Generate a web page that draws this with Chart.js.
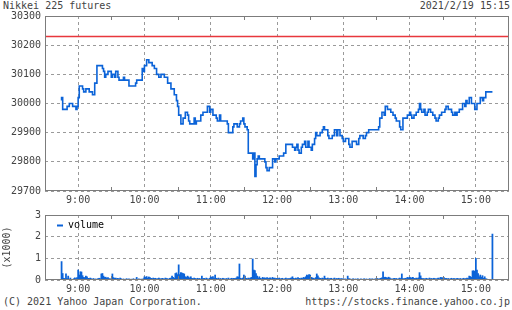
<!DOCTYPE html>
<html>
<head>
<meta charset="utf-8">
<script src="https://cdn.jsdelivr.net/npm/chart.js@4.4.0/dist/chart.umd.min.js"></script>
<style>
  html, body { margin: 0; padding: 0; background: #fff; }
  body { width: 512px; height: 310px; position: relative; overflow: hidden;
         font-family: 'DejaVu Sans Mono', monospace; font-size: 10px; color: #444; }
  .txt { position: absolute; white-space: nowrap; line-height: 12px; }
  canvas { position: absolute; left: 0; }
</style>
</head>
<body>
<div class="txt" style="left:3px; top:0px;">Nikkei 225 futures</div>
<div class="txt" style="right:2px; top:0px;">2021/2/19 15:15</div>
<canvas id="priceChart" width="512" height="205" style="top:0px"></canvas>
<canvas id="volChart" width="512" height="90" style="top:205px"></canvas>
<div class="txt" style="left:3px; top:296px;">(C) 2021 Yahoo Japan Corporation.</div>
<div class="txt" style="right:2px; top:296px;">https://stocks.finance.yahoo.co.jp</div>

<script>
// Kurs (Schritt-Linie): Zeitpunkte der Änderung und Preis
const priceTimes = [
  '8:45','8:46','8:50','8:52','8:55','8:58','8:59','9:00','9:01','9:04',
  '9:05','9:07','9:10','9:13','9:15','9:17','9:22','9:23','9:24','9:25',
  '9:27','9:30','9:31','9:33','9:34','9:36','9:37','9:41','9:42','9:46',
  '9:52','9:53','9:58','9:59','10:00','10:02','10:04','10:07','10:09','10:11',
  '10:13','10:15','10:18','10:21','10:24','10:27','10:29','10:30','10:31','10:33',
  '10:35','10:37','10:39','10:40','10:41','10:45','10:46','10:47','10:51','10:53',
  '10:57','10:59','11:00','11:02','11:05','11:06','11:08','11:09','11:15','11:16',
  '11:20','11:21','11:24','11:26','11:27','11:29','11:30','11:31','11:33','11:34',
  '11:38','11:39','11:40','11:41','11:42','11:43','11:44','11:49','11:50','11:51',
  '11:53','11:56','11:58','11:59','12:02','12:06','12:08','12:14','12:16','12:17',
  '12:18','12:19','12:20','12:22','12:23','12:25','12:26','12:28','12:29','12:31',
  '12:32','12:34','12:35','12:36','12:39','12:41','12:42','12:43','12:46','12:47',
  '12:50','12:52','12:54','12:55','12:57','12:59','13:00','13:02','13:05','13:06',
  '13:08','13:12','13:14','13:15','13:18','13:20','13:21','13:23','13:32','13:33',
  '13:35','13:37','13:38','13:40','13:43','13:45','13:47','13:48','13:51','13:52',
  '13:54','13:58','14:00','14:01','14:02','14:04','14:06','14:08','14:09','14:10',
  '14:11','14:13','14:14','14:16','14:17','14:19','14:21','14:23','14:24','14:26',
  '14:27','14:29','14:32','14:33','14:35','14:38','14:39','14:41','14:42','14:43',
  '14:45','14:48','14:50','14:51','14:52','14:54','14:56','14:59','15:01','15:04',
  '15:06','15:07','15:09','15:15'
];
const prices = [
  30010,30020,29980,29990,30000,29990,29980,29990,30020,30060,
  30050,30040,30050,30040,30030,30070,30130,30120,30110,30090,
  30100,30110,30090,30100,30090,30110,30090,30080,30090,30080,
  30060,30070,30080,30120,30110,30130,30150,30140,30130,30120,
  30100,30090,30100,30090,30070,30050,30030,30010,29990,29960,
  29930,29950,29970,29960,29940,29930,29950,29930,29940,29960,
  29970,29990,29970,29980,29960,29950,29940,29960,29940,29930,
  29900,29920,29930,29920,29930,29940,29950,29930,29920,29910,
  29830,29810,29830,29750,29790,29810,29820,29810,29800,29780,
  29770,29780,29810,29800,29810,29820,29830,29860,29850,29840,
  29850,29860,29840,29830,29850,29860,29870,29850,29870,29850,
  29840,29860,29880,29900,29890,29900,29910,29920,29910,29890,
  29880,29890,29910,29890,29910,29890,29880,29870,29880,29860,
  29850,29870,29860,29880,29890,29880,29890,29900,29910,29920,
  29950,29970,29960,29990,29980,29970,29960,29950,29940,29920,
  29910,29950,29960,29970,29960,29950,29960,29970,29980,30000,
  29980,29970,29980,29960,29970,29980,29970,29960,29950,29940,
  29950,29960,29970,29980,29990,29980,29970,29960,29970,29960,
  29970,29980,30000,29990,30010,30000,30020,30000,29980,30000,
  30020,30010,30020,30040
];
const prevClose = 30230;   // rote Linie

// Volumen pro Minute (Kontrakte), ab 8:45
const volStart = '8:45';
const vol0845 = [850,300,80,70,280,60,180,40,90,30,20,60,100,70,110];
const vol0900 = [460,230,380,370,200,120,110,180,150,80,70,90,60,40,70,30,50,30,60,80,60,280,300,180,120,130,80,110,60,40];
const vol0930 = [70,280,110,80,90,60,80,40,90,60,30,50,20,40,60,30,50,20,40,30,60,20,40,120,30,50,20,40,30,60];
const vol1000 = [150,120,160,90,140,110,80,60,90,70,80,50,60,90,70,40,80,60,50,90,70,60,40,80,90,180,120,80,300,330];
const vol1030 = [250,700,250,340,320,300,280,150,120,180,140,90,150,80,60,90,70,50,80,60,70,40,180,60,80,50,90,60,40,80];
const vol1100 = [150,120,160,90,230,80,60,90,50,70,40,80,60,30,70,50,90,40,60,80,60,80,70,90,150,140,740,80,60,90];
const vol1130 = [230,180,80,60,90,70,100,120,970,460,430,300,180,90,150,80,60,120,90,100,80,110,70,90,100,60,120,80,90,70];
const vol1200 = [80,60,90,50,70,80,40,60,90,50,70,60,80,100,150,80,60,90,70,110,80,60,90,70,120,100,150,230,200,250];
const vol1230 = [230,120,100,80,60,110,280,190,100,80,60,90,70,180,80,60,90,50,70,80,40,60,90,50,70,60,80,40,60,50];
const vol1300 = [60,40,50,30,180,60,50,30,40,60,20,50,30,60,40,20,50,30,40,60,30,50,20,40,60,30,50,40,30,60];
const vol1330 = [50,70,40,60,80,100,380,120,130,110,90,130,100,60,40,50,80,60,70,40,60,90,70,280,60,50,80,70,120,100];
const vol1400 = [130,110,90,120,80,60,90,70,100,340,190,80,60,70,40,80,60,50,90,60,70,50,80,60,40,70,90,60,120,110];
const vol1430 = [100,120,60,80,50,70,40,60,80,50,70,60,40,80,60,50,70,40,60,80,50,60,90,70,180,160,120,420,430,400];
const vol1500 = [1000,460,300,150,230,130,200,80,150,60,40,0,0,0,0,2120];

const axisStart = '8:30', axisEnd = '15:30';
const priceTicks = [29700, 30300, 100];   // min, max, step
const volTicks = [0, 3000, 1000];

// ---------------------------------------------------------------
const BLUE = '#0b63d8';
const RED = '#e8373c';
const GRID = '#9a9a9a';
const FRAME = '#7c7c7c';
const TEXT = '#444444';
const FONT = { family: "'DejaVu Sans Mono', monospace", size: 10 };

const toMin = s => { const [h, m] = s.split(':').map(Number); return h * 60 + m; };

const pricePoints = priceTimes.map((t, i) => ({ x: toMin(t), y: prices[i] }));
const volValues = [].concat(vol0845, vol0900, vol0930, vol1000, vol1030, vol1100, vol1130,
  vol1200, vol1230, vol1300, vol1330, vol1400, vol1430, vol1500);
const volPoints = volValues.map((v, i) => ({ x: toMin(volStart) + i, y: v }));

// Rahmen + kleine Halbstunden-Striche
const frame = {
  id: 'frame',
  afterDraw(chart) {
    const { ctx, chartArea: a, scales } = chart;
    ctx.save();
    ctx.strokeStyle = FRAME;
    ctx.lineWidth = 1;
    ctx.strokeRect(Math.round(a.left) + 0.5, Math.round(a.top) + 0.5,
      Math.round(a.width) - 1, Math.round(a.height) - 1);
    ctx.beginPath();
    scales.x.ticks.forEach(t => {
      if (t.value % 60 === 30 && t.value > scales.x.min && t.value < scales.x.max) {
        const px = Math.round(scales.x.getPixelForValue(t.value)) + 0.5;
        ctx.moveTo(px, a.top); ctx.lineTo(px, a.top + 4);
        ctx.moveTo(px, a.bottom); ctx.lineTo(px, a.bottom - 4);
      }
    });
    ctx.stroke();
    ctx.restore();
  }
};

// Legende innerhalb der Zeichenfläche (oben links)
const innerLegend = {
  id: 'innerLegend',
  afterDraw(chart) {
    const { ctx, chartArea: a } = chart;
    const ds = chart.data.datasets[0];
    const y = Math.round(a.top + 10) + 0.5;
    ctx.save();
    ctx.strokeStyle = ds.backgroundColor;
    ctx.lineWidth = 2;
    ctx.beginPath();
    ctx.moveTo(a.left + 12, y); ctx.lineTo(a.left + 18, y);
    ctx.stroke();
    ctx.fillStyle = '#000';
    ctx.font = `${FONT.size}px ${FONT.family}`;
    ctx.textBaseline = 'middle';
    ctx.fillText(ds.label, a.left + 23, y);
    ctx.restore();
  }
};

function xScale(height) {
  return {
    type: 'linear',
    min: toMin(axisStart),
    max: toMin(axisEnd),
    offset: false,
    afterFit(s) { s.height = height; },
    border: { display: false, dash: [3, 3] },
    grid: {
      drawTicks: false,
      offset: false,
      lineWidth: 1,
      color: c => (c.tick && c.tick.value % 60 === 0) ? GRID : 'transparent',
    },
    ticks: {
      stepSize: 30,
      autoSkip: false,
      maxRotation: 0,
      padding: 3,
      color: TEXT,
      font: FONT,
      callback: v => v % 60 === 0 ? (v / 60) + ':00' : '',
    },
  };
}

function yScale(t, fmt, title) {
  return {
    min: t[0], max: t[1],
    afterFit(s) { s.width = 45; },
    border: { display: false, dash: [3, 3] },
    grid: { drawTicks: false, color: GRID, lineWidth: 1 },
    ticks: { stepSize: t[2], padding: 4, color: TEXT, font: FONT, callback: fmt },
    title: title ? { display: true, text: title, color: TEXT, font: FONT, padding: { top: 1, bottom: 0 } } : { display: false },
  };
}

Chart.defaults.animation = false;
Chart.defaults.devicePixelRatio = 1;

// Kurs-Diagramm
new Chart(document.getElementById('priceChart'), {
  type: 'line',
  data: {
    datasets: [{
      data: pricePoints,
      borderColor: BLUE,
      borderWidth: 1.6,
      stepped: 'after',
      pointRadius: 0,
      fill: false,
    }, {
      data: [{ x: toMin(axisStart), y: prevClose }, { x: toMin(axisEnd), y: prevClose }],
      borderColor: RED,
      borderWidth: 1.5,
      pointRadius: 0,
      fill: false,
    }],
  },
  options: {
    responsive: false,
    layout: { padding: { left: 0, right: 1, top: 16, bottom: 0 } },
    plugins: { legend: { display: false }, tooltip: { enabled: false } },
    scales: {
      x: xScale(14),
      y: yScale(priceTicks, v => String(v)),
    },
  },
  plugins: [frame],
});

// Volumen-Diagramm
new Chart(document.getElementById('volChart'), {
  type: 'bar',
  data: {
    datasets: [{
      label: 'volume',
      data: volPoints,
      backgroundColor: BLUE,
      borderWidth: 0,
      barPercentage: 1,
      categoryPercentage: 1,
    }],
  },
  options: {
    responsive: false,
    layout: { padding: { left: 0, right: 1, top: 10, bottom: 0 } },
    plugins: {
      tooltip: { enabled: false },
      legend: { display: false },
    },
    scales: {
      x: xScale(15),
      y: yScale(volTicks, v => String(v / 1000), '(x1000)'),
    },
  },
  plugins: [frame, innerLegend],
});
</script>
</body>
</html>
